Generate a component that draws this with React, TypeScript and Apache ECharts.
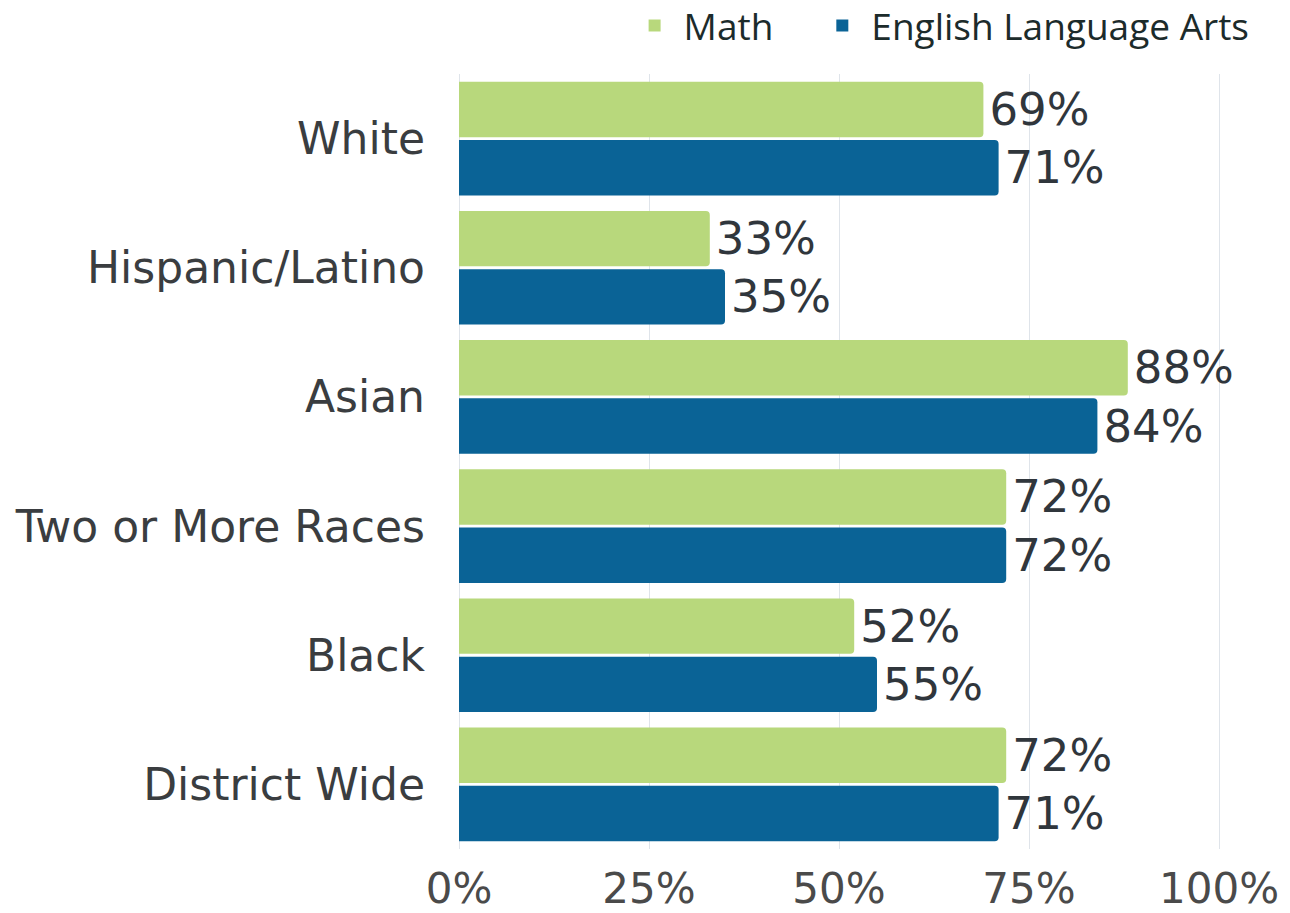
import React, { useEffect, useRef } from "react";
import * as echarts from "echarts";

const categories = ["White", "Hispanic/Latino", "Asian", "Two or More Races", "Black", "District Wide"];
const mathValues = [69, 33, 88, 72, 52, 72];
const elaValues = [71, 35, 84, 72, 55, 71];
const seriesNames = ["Math", "English Language Arts"];
const xTicks = [0, 25, 50, 75, 100];

export default function App() {
  const ref = useRef<HTMLDivElement>(null);
  useEffect(() => {
    if (!ref.current) return;
    const chart = echarts.init(ref.current, null, { renderer: "svg" });
    const labelFont = "'DejaVu Sans', Verdana, sans-serif";
    const dataLabel = {
      show: true,
      position: "right",
      distance: 6,
      formatter: "{c}%",
      fontFamily: labelFont,
      fontSize: 45,
      color: "#30363c",
    };
    chart.setOption({
      animation: false,
      backgroundColor: "#ffffff",
      legend: {
        top: 2,
        right: 36,
        itemWidth: 12,
        itemHeight: 12,
        itemGap: 63,
        icon: "rect",
        textStyle: { fontFamily: "'Open Sans', sans-serif", fontSize: 37, color: "#1c2b2b", padding: [0, 0, 0, 18] },
        data: seriesNames,
      },
      grid: { left: 459, right: 71, top: 74, bottom: 64, containLabel: false },
      xAxis: {
        type: "value",
        min: xTicks[0],
        max: xTicks[xTicks.length - 1],
        interval: 25,
        axisLine: { show: false },
        axisTick: { show: false },
        splitLine: { show: true, lineStyle: { color: "#dfe4ea", width: 1 } },
        axisLabel: {
          formatter: (v: number) => v + "%",
          fontFamily: labelFont,
          fontSize: 42,
          color: "#4a4a4a",
          margin: 18,
        },
      },
      yAxis: {
        type: "category",
        inverse: true,
        data: categories,
        axisLine: { show: false },
        axisTick: { show: false },
        axisLabel: { fontFamily: labelFont, fontSize: 44, color: "#3a3d40", margin: 34 },
      },
      series: [
        {
          name: seriesNames[0],
          type: "bar",
          data: mathValues,
          itemStyle: { color: "#b8d87c", borderRadius: [0, 4, 4, 0] },
          barGap: "5%",
          barCategoryGap: "12%",
          label: dataLabel,
        },
        {
          name: seriesNames[1],
          type: "bar",
          data: elaValues,
          itemStyle: { color: "#0a6396", borderRadius: [0, 4, 4, 0] },
          barGap: "5%",
          barCategoryGap: "12%",
          label: dataLabel,
        },
      ],
    });
    return () => chart.dispose();
  }, []);
  return <div ref={ref} style={{ width: 1290, height: 913, position: "absolute", left: 0, top: 0 }} />;
}
